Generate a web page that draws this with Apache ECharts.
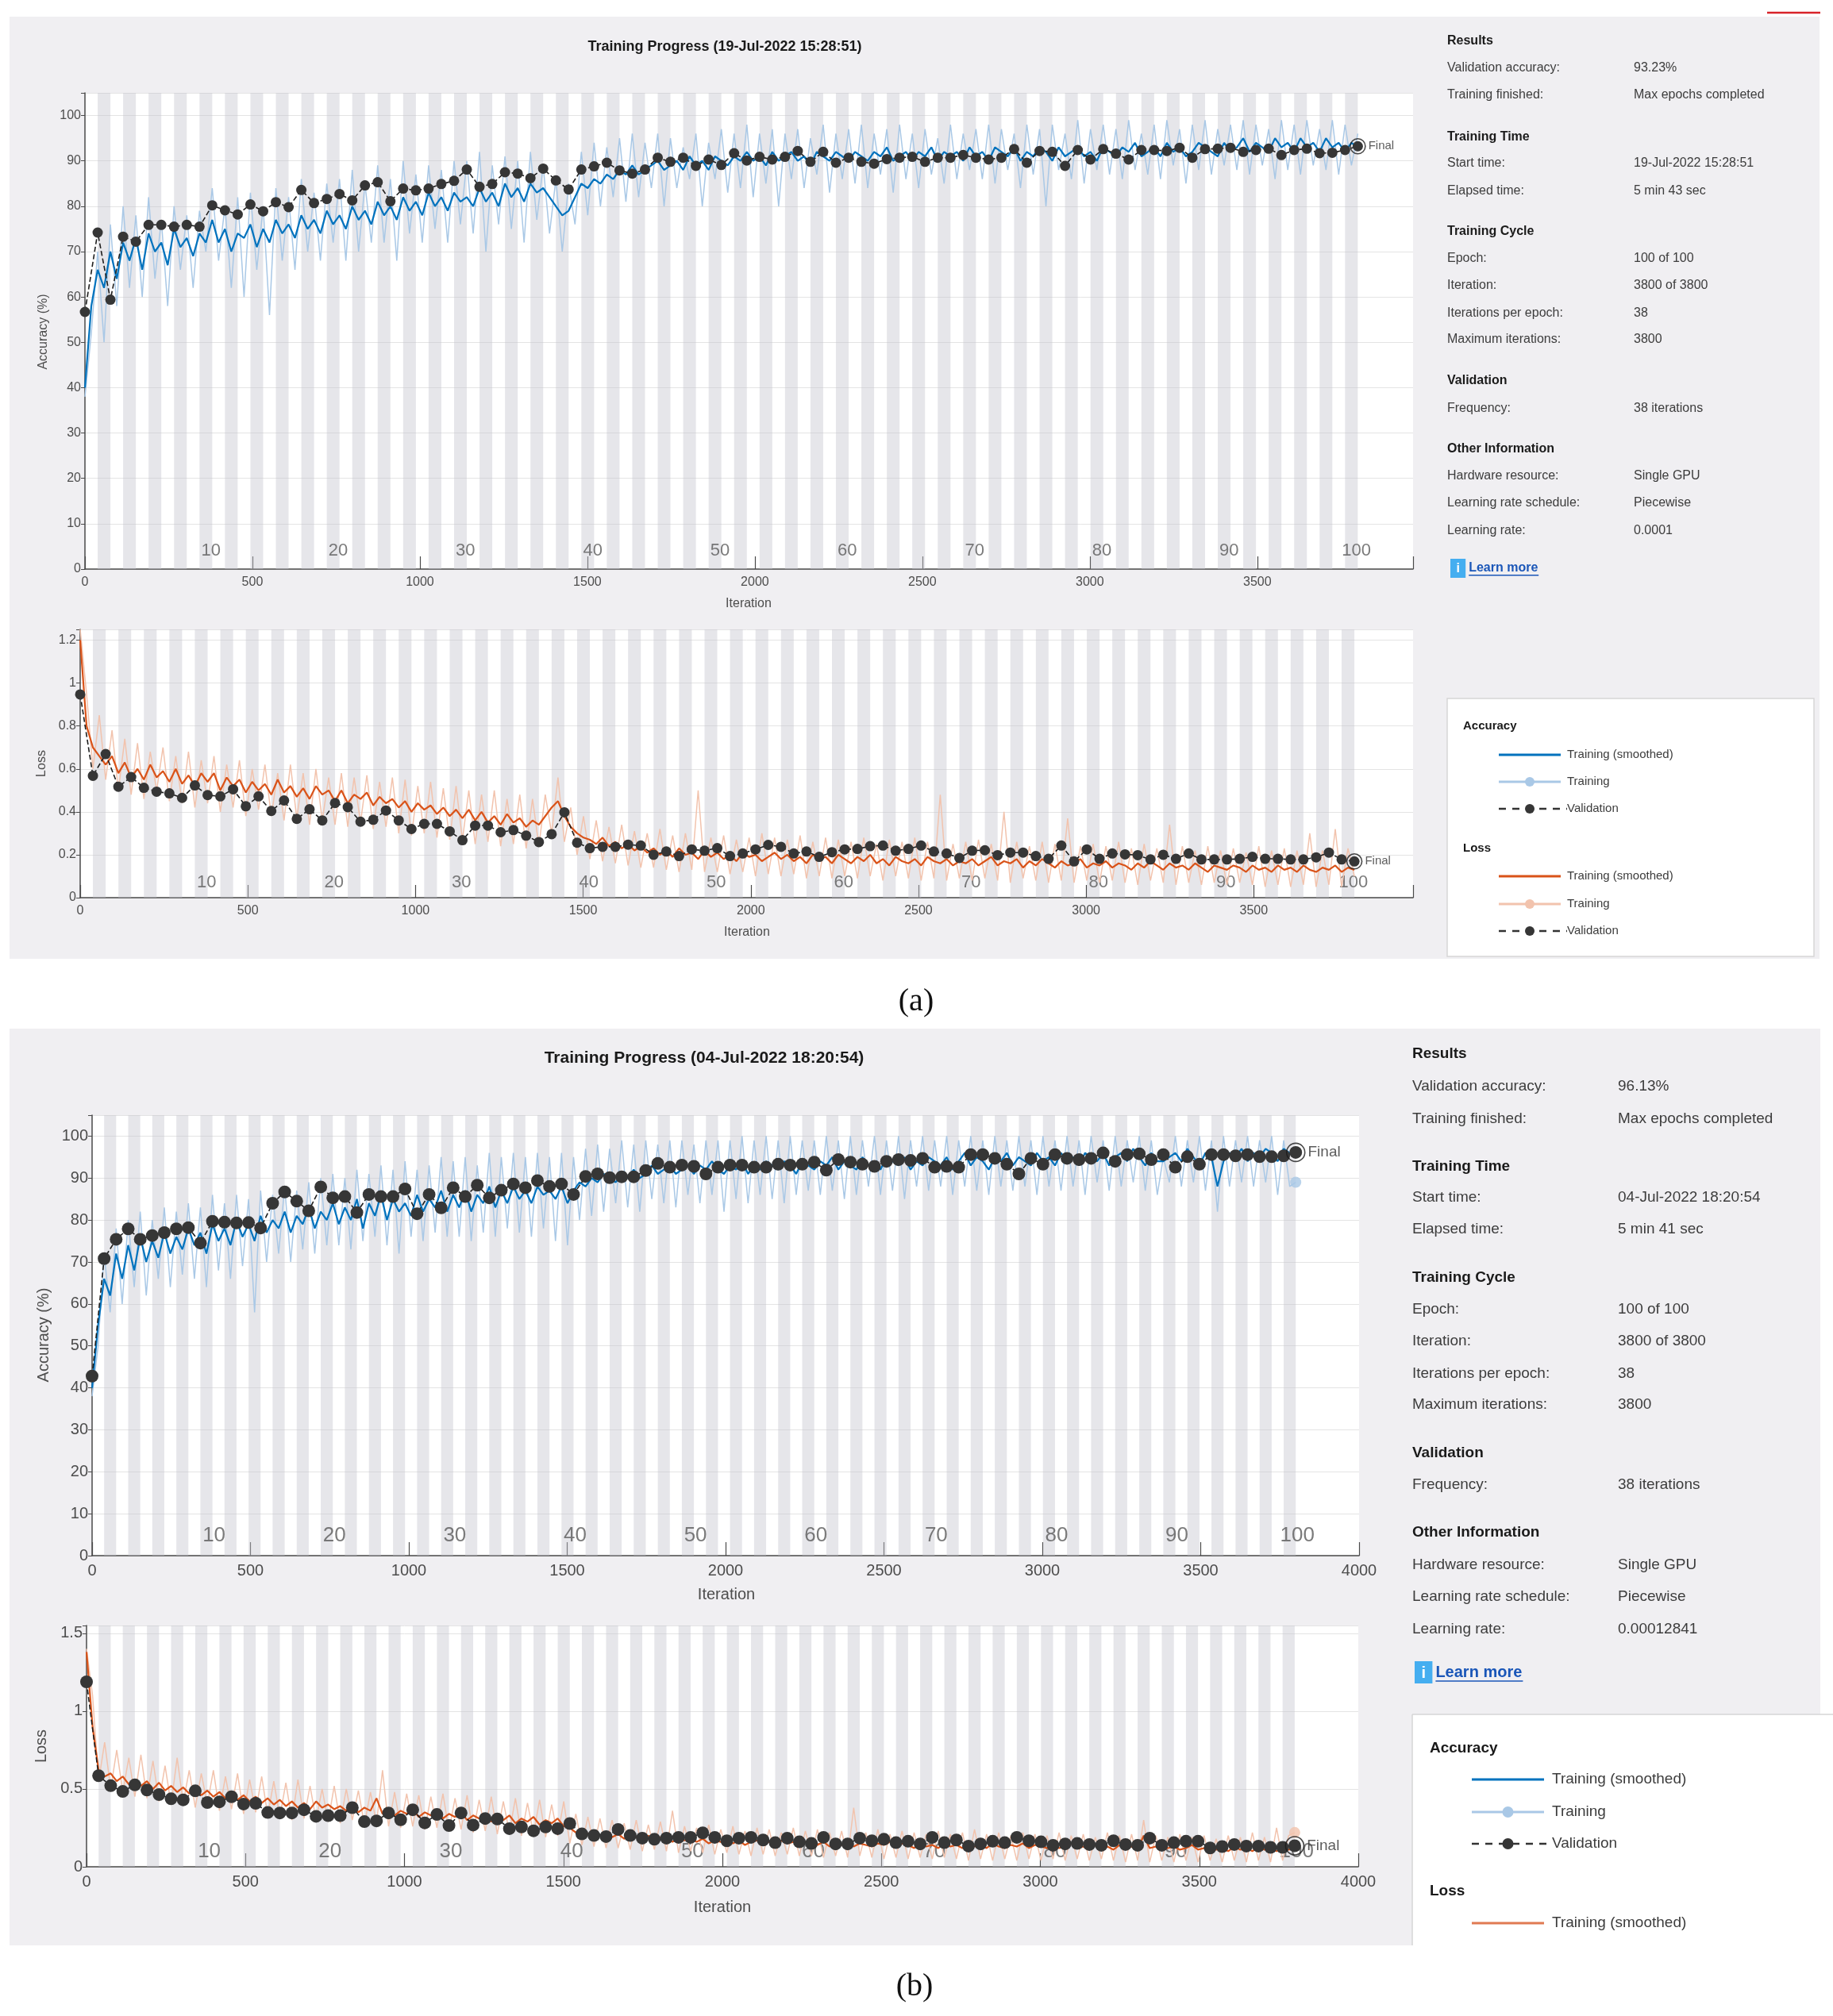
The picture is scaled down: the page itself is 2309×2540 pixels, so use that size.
<!DOCTYPE html>
<html>
<head>
<meta charset="utf-8">
<script src="https://cdn.jsdelivr.net/npm/echarts@6/dist/echarts.min.js"></script>
<style>
html,body{margin:0;padding:0;background:#fff;}
#c{width:2309px;height:2540px;}
</style>
</head>
<body>
<div id="c"></div>
<script>
// ---------------- DATA ----------------
const ITER_PER_EPOCH = 38;
const NUM_EPOCHS = 100;
const TRAIN_STEP = 19; // training curves sampled every 19 iterations
const epochLabels = ['10','20','30','40','50','60','70','80','90','100'];
const epochLabelAt = [10,20,30,40,50,60,70,80,90,100];
const xTickStep = 500;

// Panel (a) accuracy
const accA_val = [56.7,74.2,59.4,73.3,72.2,75.9,75.9,75.5,75.9,75.5,
 80.2,79.1,78.2,80.4,78.9,80.9,79.8,83.6,80.7,81.6,
 82.7,81.3,84.6,85.3,81.1,83.9,83.5,83.9,84.9,85.6,
 88.1,84.3,84.9,87.5,87.2,86.2,88.3,85.7,83.7,88.1,
 88.8,89.6,87.9,87.2,88.1,90.7,89.8,90.7,88.9,90.3,
 89.1,91.7,90.1,90.9,90.3,90.9,92.2,89.8,92.0,89.6,
 90.7,89.8,89.4,90.4,90.7,90.9,
 89.8,90.7,90.7,91.3,90.7,90.3,90.7,92.6,89.6,92.2,
 92.0,88.9,92.4,90.3,92.6,91.6,90.3,92.4,92.4,92.2,
 92.9,90.7,92.6,92.7,92.9,92.0,92.4,92.7,91.3,92.4,
 92.7,91.7,91.8,92.4,93.23];
const accA_smooth = [40,58,66,62,70,64,72,68,73,66,74,70,72,67,75,71,73,69,74,72,
 77,72,75,70,74,73,76,71,75,72,77,74,76,73,78,75,77,74,79,76,
 78,75,80,77,79,76,81,78,80,77,82,79,81,78,83,80,82,79,83,81,
 82,80,84,81,83,80,85,82,84,81,85,83,84,82,80,78,79,82,85,84,
 86,85,87,86,88,87,89,87,88,89,90,88,89,90,88,91,89,90,88,91,
 90,89,91,90,92,90,91,89,92,90,91,92,90,91,89,92,91,90,92,91,
 90,92,91,90,92,91,93,90,91,92,90,92,91,93,90,92,91,92,90,93,
 91,92,90,93,92,91,93,90,92,91,93,92,90,93,91,92,93,91,92,90,
 93,92,91,93,92,94,91,92,93,91,94,92,93,91,92,94,93,92,91,94,
 92,93,95,92,94,93,92,95,93,94,92,95,93,94,92,95,93,94,92,94,93];
const accA_raw = [38,52,70,50,76,58,80,62,78,60,82,64,77,58,80,66,78,62,79,70,
 84,68,80,62,82,60,83,66,80,56,84,68,82,66,86,70,83,68,85,72,
 86,68,88,70,85,72,89,72,86,68,90,74,87,72,89,75,88,72,90,76,
 90,74,92,70,89,76,91,75,90,72,92,77,89,74,86,70,85,76,92,78,
 94,80,93,82,95,81,96,82,94,84,96,80,95,84,93,86,96,80,94,86,
 97,83,96,84,98,82,96,85,97,80,96,86,97,84,95,87,98,83,96,86,
 97,85,98,84,96,87,97,83,98,86,96,84,97,87,95,85,98,86,96,88,
 97,86,98,85,97,88,96,84,98,87,97,80,98,88,96,86,99,85,97,88,
 98,87,97,86,99,88,96,87,98,86,99,89,97,85,98,88,99,87,97,89,
 98,88,99,87,98,89,97,86,99,88,98,87,99,89,97,88,99,87,98,89,96];

// Panel (a) loss
const lossA_val = [0.947,0.568,0.669,0.517,0.562,0.512,0.494,0.486,0.465,0.523,
 0.478,0.472,0.505,0.426,0.472,0.404,0.453,0.367,0.412,0.360,
 0.441,0.422,0.354,0.363,0.406,0.360,0.320,0.344,0.344,0.309,
 0.268,0.336,0.336,0.305,0.315,0.289,0.259,0.296,0.398,0.256,
 0.231,0.237,0.237,0.247,0.243,0.200,0.215,0.194,0.225,0.219,
 0.231,0.194,0.206,0.225,0.246,0.237,0.206,0.215,0.190,0.212,
 0.225,0.227,0.240,0.243,0.219,0.227,
 0.243,0.215,0.206,0.185,0.219,0.221,0.198,0.210,0.210,0.194,
 0.181,0.243,0.169,0.225,0.181,0.206,0.202,0.198,0.178,0.200,
 0.181,0.206,0.178,0.178,0.178,0.181,0.190,0.181,0.181,0.178,
 0.178,0.188,0.210,0.178,0.169];
const lossA_smooth = [1.20,0.80,0.70,0.66,0.62,0.66,0.58,0.63,0.56,0.60,0.55,0.62,0.56,0.59,0.54,0.60,0.53,0.57,0.52,0.58,
 0.54,0.58,0.50,0.56,0.52,0.55,0.49,0.54,0.50,0.53,0.48,0.55,0.49,0.52,0.47,0.51,0.46,0.52,0.48,0.50,
 0.45,0.50,0.44,0.48,0.46,0.49,0.43,0.47,0.44,0.46,0.42,0.45,0.40,0.44,0.41,0.43,0.39,0.42,0.38,0.41,
 0.37,0.41,0.36,0.40,0.35,0.38,0.34,0.39,0.35,0.37,0.33,0.36,0.34,0.38,0.42,0.45,0.38,0.33,0.30,0.28,
 0.27,0.25,0.28,0.24,0.26,0.23,0.25,0.22,0.24,0.21,0.23,0.20,0.22,0.19,0.23,0.20,0.21,0.18,0.22,0.19,
 0.21,0.18,0.20,0.17,0.21,0.19,0.20,0.17,0.19,0.21,0.18,0.20,0.17,0.19,0.16,0.20,0.18,0.19,0.16,0.20,
 0.18,0.16,0.19,0.17,0.20,0.16,0.18,0.15,0.19,0.17,0.16,0.18,0.15,0.19,0.17,0.16,0.18,0.15,0.17,0.16,
 0.18,0.15,0.17,0.19,0.15,0.17,0.16,0.18,0.14,0.17,0.15,0.18,0.16,0.14,0.17,0.15,0.16,0.18,0.14,0.16,
 0.15,0.17,0.14,0.16,0.15,0.13,0.16,0.14,0.17,0.15,0.13,0.16,0.14,0.15,0.13,0.16,0.14,0.12,0.15,0.14,
 0.13,0.15,0.14,0.12,0.15,0.13,0.14,0.12,0.15,0.13,0.14,0.12,0.15,0.13,0.12,0.14,0.13,0.15,0.12,0.14,0.13];
const lossA_raw = [1.25,0.95,0.60,0.85,0.55,0.78,0.50,0.74,0.48,0.72,0.46,0.68,0.50,0.70,0.45,0.66,0.44,0.68,0.42,0.64,
 0.44,0.66,0.40,0.62,0.42,0.64,0.38,0.60,0.41,0.62,0.38,0.58,0.36,0.62,0.37,0.58,0.34,0.60,0.36,0.56,
 0.34,0.58,0.33,0.56,0.35,0.57,0.32,0.54,0.33,0.56,0.30,0.55,0.29,0.52,0.30,0.54,0.28,0.51,0.27,0.52,
 0.27,0.50,0.25,0.48,0.26,0.50,0.24,0.46,0.25,0.48,0.23,0.46,0.24,0.48,0.30,0.56,0.26,0.42,0.20,0.38,
 0.18,0.36,0.17,0.33,0.16,0.34,0.15,0.31,0.14,0.30,0.14,0.32,0.13,0.29,0.12,0.30,0.13,0.50,0.12,0.28,
 0.12,0.29,0.11,0.27,0.12,0.28,0.10,0.30,0.11,0.28,0.10,0.27,0.11,0.29,0.09,0.26,0.10,0.28,0.09,0.27,
 0.10,0.26,0.09,0.28,0.10,0.25,0.08,0.27,0.10,0.26,0.09,0.28,0.08,0.26,0.09,0.48,0.08,0.25,0.09,0.26,
 0.08,0.27,0.09,0.25,0.08,0.40,0.07,0.26,0.09,0.24,0.08,0.26,0.07,0.25,0.08,0.37,0.07,0.24,0.08,0.25,
 0.07,0.24,0.08,0.26,0.07,0.23,0.06,0.25,0.08,0.23,0.07,0.34,0.06,0.24,0.07,0.22,0.06,0.24,0.07,0.22,
 0.06,0.23,0.07,0.21,0.06,0.24,0.05,0.22,0.06,0.23,0.05,0.22,0.06,0.30,0.05,0.22,0.06,0.32,0.05,0.23,0.10];

// Panel (b) accuracy
const accB_val = [42.8,70.8,75.4,77.9,75.4,76.3,77.0,77.9,78.2,74.5,
 79.7,79.5,79.3,79.4,78.1,84.0,86.7,84.5,82.2,87.9,
 85.3,85.6,81.8,86.1,85.6,85.6,87.4,81.5,86.1,82.9,
 87.7,85.6,88.3,85.3,87.1,88.6,87.7,89.4,88.0,88.6,
 86.1,90.4,91.0,90.1,90.3,90.3,91.8,93.5,92.6,93.1,
 92.8,91.0,92.6,93.1,93.1,92.6,92.6,93.3,93.1,93.3,
 93.8,91.9,94.4,93.8,93.3,92.8,94.0,94.4,94.2,
 94.7,92.6,92.8,92.6,95.6,95.6,94.7,93.3,91.0,94.7,
 93.3,95.6,94.7,94.4,94.7,96.0,94.0,95.6,95.8,94.4,
 95.6,92.6,95.1,93.3,95.6,95.6,95.3,95.6,95.1,95.1,
 95.3,96.13];
const accB_smooth = [40,55,66,62,72,66,74,68,76,70,75,71,77,72,76,73,78,74,77,72,
 79,75,78,74,80,76,79,75,81,77,80,78,82,77,81,79,83,78,82,80,
 84,79,83,80,85,78,84,81,86,80,85,82,84,81,86,82,85,83,87,82,
 86,83,87,82,86,84,88,83,87,84,88,85,87,84,88,86,87,85,88,84,
 87,89,88,90,89,91,90,89,91,90,92,90,91,93,91,92,93,91,92,93,
 91,93,92,94,92,91,93,92,94,91,93,92,94,93,92,94,93,91,94,93,
 92,94,93,95,92,94,93,92,95,93,94,92,95,94,93,95,92,94,93,95,
 94,93,95,92,94,96,93,95,94,92,95,94,96,93,95,94,93,96,94,95,
 93,96,94,95,93,96,95,94,96,93,95,96,94,97,95,93,96,94,94,95,
 96,94,97,95,93,96,95,88,94,96,95,97,94,96,95,97,96,94,97,96,95];
const accB_raw = [38,50,72,58,78,60,80,64,82,62,80,66,83,64,82,67,84,66,83,64,
 86,68,84,66,86,69,85,58,87,70,86,72,88,70,87,73,89,72,90,74,
 91,74,90,73,92,75,91,76,93,74,92,72,94,76,92,75,93,77,95,76,
 94,76,95,75,93,77,96,76,95,78,96,77,95,76,96,78,95,75,96,74,
 95,80,97,81,98,82,97,84,99,83,98,82,99,85,98,84,99,83,99,86,
 98,84,99,86,99,82,99,85,100,84,99,86,100,85,99,84,100,86,99,87,
 99,86,100,87,99,85,100,86,99,88,100,86,99,87,100,85,99,88,100,87,
 99,88,100,86,99,88,100,87,99,86,100,88,99,87,100,88,99,86,100,88,
 99,87,100,88,99,86,100,89,99,87,100,88,99,89,100,87,99,86,95,89,
 100,88,99,89,100,87,99,82,100,88,99,89,100,88,99,89,100,86,99,88,89];

// Panel (b) loss
const lossB_val = [1.188,0.585,0.521,0.484,0.526,0.493,0.464,0.437,0.430,0.488,
 0.413,0.417,0.450,0.403,0.408,0.349,0.346,0.346,0.366,0.324,
 0.329,0.329,0.380,0.290,0.295,0.346,0.302,0.366,0.282,0.336,
 0.265,0.346,0.268,0.310,0.307,0.245,0.256,0.231,0.256,0.245,
 0.278,0.211,0.201,0.194,0.240,0.201,0.184,0.177,0.184,0.189,
 0.189,0.218,0.189,0.167,0.184,0.189,0.172,0.155,0.184,0.160,
 0.150,0.189,0.147,0.147,0.184,0.167,0.177,0.155,0.164,
 0.147,0.189,0.155,0.172,0.133,0.147,0.164,0.155,0.189,0.167,
 0.160,0.138,0.147,0.150,0.143,0.138,0.167,0.143,0.138,0.184,
 0.138,0.155,0.164,0.164,0.121,0.130,0.143,0.133,0.133,0.125,
 0.125,0.135];
const lossB_smooth = [1.38,0.90,0.62,0.58,0.60,0.55,0.58,0.53,0.56,0.52,0.55,0.50,0.54,0.49,0.52,0.48,0.51,0.47,0.50,0.46,
 0.49,0.45,0.48,0.44,0.47,0.43,0.46,0.42,0.45,0.41,0.44,0.40,0.43,0.39,0.42,0.38,0.41,0.37,0.42,0.38,
 0.40,0.37,0.39,0.36,0.40,0.35,0.38,0.36,0.44,0.34,0.37,0.33,0.36,0.34,0.37,0.32,0.35,0.33,0.36,0.31,
 0.34,0.32,0.35,0.30,0.33,0.31,0.34,0.29,0.32,0.30,0.33,0.28,0.31,0.29,0.32,0.27,0.30,0.28,0.31,0.26,
 0.25,0.22,0.24,0.21,0.23,0.20,0.22,0.19,0.21,0.18,0.20,0.19,0.18,0.20,0.17,0.19,0.18,0.16,0.19,0.17,
 0.18,0.16,0.18,0.15,0.17,0.16,0.18,0.15,0.17,0.14,0.16,0.17,0.15,0.16,0.14,0.17,0.15,0.16,0.14,0.16,
 0.15,0.14,0.16,0.13,0.15,0.14,0.16,0.13,0.15,0.14,0.13,0.15,0.14,0.16,0.13,0.15,0.14,0.12,0.15,0.13,
 0.14,0.12,0.15,0.13,0.14,0.12,0.16,0.13,0.14,0.12,0.15,0.13,0.12,0.14,0.13,0.15,0.12,0.14,0.13,0.12,
 0.14,0.12,0.13,0.15,0.12,0.13,0.11,0.14,0.12,0.13,0.11,0.14,0.12,0.13,0.11,0.20,0.12,0.13,0.11,0.12,
 0.13,0.11,0.12,0.14,0.11,0.12,0.13,0.11,0.12,0.10,0.13,0.11,0.12,0.10,0.13,0.11,0.12,0.10,0.12,0.11,0.12];
const lossB_raw = [1.40,1.10,0.55,0.80,0.50,0.75,0.48,0.70,0.45,0.72,0.44,0.68,0.42,0.65,0.40,0.70,0.41,0.62,0.38,0.60,
 0.40,0.62,0.36,0.58,0.37,0.60,0.34,0.56,0.35,0.58,0.33,0.55,0.32,0.54,0.30,0.56,0.31,0.52,0.30,0.50,
 0.29,0.52,0.28,0.50,0.30,0.49,0.27,0.48,0.28,0.62,0.26,0.48,0.25,0.47,0.26,0.46,0.24,0.45,0.25,0.47,
 0.23,0.44,0.24,0.46,0.22,0.43,0.23,0.45,0.21,0.42,0.22,0.44,0.20,0.41,0.21,0.43,0.19,0.40,0.20,0.42,
 0.15,0.34,0.14,0.32,0.13,0.31,0.12,0.30,0.12,0.28,0.11,0.30,0.10,0.27,0.11,0.29,0.10,0.36,0.09,0.26,
 0.10,0.25,0.09,0.27,0.08,0.24,0.09,0.26,0.08,0.23,0.07,0.25,0.08,0.24,0.07,0.22,0.08,0.25,0.07,0.23,
 0.07,0.24,0.06,0.22,0.07,0.23,0.06,0.38,0.07,0.22,0.06,0.24,0.05,0.21,0.06,0.23,0.05,0.22,0.06,0.21,
 0.05,0.23,0.06,0.21,0.05,0.22,0.04,0.24,0.05,0.21,0.04,0.22,0.05,0.20,0.04,0.22,0.05,0.21,0.04,0.20,
 0.05,0.22,0.04,0.20,0.05,0.21,0.04,0.19,0.05,0.22,0.04,0.20,0.03,0.21,0.04,0.30,0.03,0.20,0.04,0.19,
 0.03,0.21,0.04,0.19,0.03,0.20,0.04,0.18,0.03,0.20,0.04,0.19,0.03,0.22,0.04,0.19,0.03,0.25,0.04,0.20,0.22];

// Info panel text
const infoLabels = ['Results','Validation accuracy:','Training finished:','Training Time','Start time:','Elapsed time:',
 'Training Cycle','Epoch:','Iteration:','Iterations per epoch:','Maximum iterations:','Validation','Frequency:',
 'Other Information','Hardware resource:','Learning rate schedule:','Learning rate:'];
const infoValuesA = ['','93.23%','Max epochs completed','','19-Jul-2022 15:28:51','5 min 43 sec','',
 '100 of 100','3800 of 3800','38','3800','','38 iterations','','Single GPU','Piecewise','0.0001'];
const infoValuesB = ['','96.13%','Max epochs completed','','04-Jul-2022 18:20:54','5 min 41 sec','',
 '100 of 100','3800 of 3800','38','3800','','38 iterations','','Single GPU','Piecewise','0.00012841'];
const titleA = 'Training Progress (19-Jul-2022 15:28:51)';
const titleB = 'Training Progress (04-Jul-2022 18:20:54)';

// ---------------- LAYOUT / STYLE ----------------
const FONT = '"Liberation Sans", Arial, Helvetica, sans-serif';
const BLUE = '#0072BD', BLUE_L = '#a9c8e6', ORANGE = '#D95319', ORANGE_L = '#f2c3ad';
const PANEL_BG = '#f0eff2', STRIPE = 'rgba(196,196,204,0.42)', AXIS_C = '#4a4a4a', VAL_C = '#363636';

const panels = [
 {grid:{left:107, top:117, width:1673, height:600}, xMax:3965, yMax:105, yInt:10, font:16, tickLen:16,
  val:accA_val, smooth:accA_smooth, raw:accA_raw, c:BLUE, cl:BLUE_L, epOff:-4, epY:4.0, epFont:22, mk:13, ring:19, endDot:false},
 {grid:{left:101, top:793, width:1679, height:338}, xMax:3975, yMax:1.25, yInt:0.2, font:16, tickLen:16,
  val:lossA_val, smooth:lossA_smooth, raw:lossA_raw, c:ORANGE, cl:ORANGE_L, epOff:-3, epY:0.07, epFont:22, mk:13, ring:19, endDot:false},
 {grid:{left:116, top:1405, width:1596, height:555}, xMax:4000, yMax:105, yInt:10, font:20, tickLen:17,
  val:accB_val, smooth:accB_smooth, raw:accB_raw, c:BLUE, cl:BLUE_L, epOff:5, epY:4.8, epFont:26, mk:16, ring:23, endDot:true},
 {grid:{left:109, top:2048, width:1602, height:304}, xMax:4000, yMax:1.55, yInt:0.5, font:20, tickLen:17,
  val:lossB_val, smooth:lossB_smooth, raw:lossB_raw, c:ORANGE, cl:ORANGE_L, epOff:6, epY:0.10, epFont:26, mk:16, ring:23, endDot:true}
];

function onStep(v, step){ const r = v/step; return Math.abs(r - Math.round(r)) < 1e-6; }

const stripeData = [];
for (let e = 2; e <= NUM_EPOCHS; e += 2) {
  stripeData.push([{xAxis:(e-1)*ITER_PER_EPOCH}, {xAxis:e*ITER_PER_EPOCH}]);
}

const grids = [], xAxes = [], yAxes = [], series = [];
panels.forEach((p, i) => {
  grids.push(Object.assign({show:true, backgroundColor:'#ffffff', borderWidth:0, containLabel:false}, p.grid));
  xAxes.push({type:'value', gridIndex:i, min:0, max:p.xMax, interval:xTickStep,
    axisLine:{show:true, onZero:false, lineStyle:{color:AXIS_C, width:1.5}},
    axisTick:{show:true, inside:true, length:p.tickLen, lineStyle:{color:AXIS_C, width:1.2}},
    axisLabel:{show:true, fontSize:p.font, color:'#4d4d4d', fontFamily:FONT, margin:9,
      formatter:v => onStep(v, xTickStep) ? String(v) : ''},
    splitLine:{show:false}});
  yAxes.push({type:'value', gridIndex:i, min:0, max:p.yMax, interval:p.yInt,
    axisLine:{show:true, lineStyle:{color:AXIS_C, width:1.5}},
    axisTick:{show:true, inside:false, length:5, lineStyle:{color:AXIS_C}},
    axisLabel:{show:true, fontSize:p.font, color:'#4d4d4d', fontFamily:FONT, margin:5,
      formatter:v => onStep(v, p.yInt) ? String(+v.toFixed(2)) : ''},
    splitLine:{show:true, lineStyle:{color:'#e4e4e4', width:1}}});

  // epoch stripes
  series.push({type:'line', xAxisIndex:i, yAxisIndex:i, data:[], silent:true,
    markArea:{silent:true, z:1, itemStyle:{color:STRIPE}, data:stripeData}});
  // epoch labels
  series.push({type:'scatter', xAxisIndex:i, yAxisIndex:i, z:2, silent:true, symbolSize:1,
    itemStyle:{color:'rgba(0,0,0,0)'},
    data: epochLabelAt.map((e, k) => ({value:[e*ITER_PER_EPOCH + p.epOff, p.epY], name:epochLabels[k]})),
    label:{show:true, position:'inside', formatter:d => d.name, fontSize:p.epFont, color:'#5a5a5a', fontFamily:FONT}});
  // raw training
  series.push({type:'line', xAxisIndex:i, yAxisIndex:i, z:3, silent:true, symbol:'none',
    data:p.raw.map((v, k) => [k*TRAIN_STEP, v]), lineStyle:{color:p.cl, width:1.5}});
  // smoothed training
  series.push({type:'line', xAxisIndex:i, yAxisIndex:i, z:4, silent:true, symbol:'none',
    data:p.smooth.map((v, k) => [k*TRAIN_STEP, v]), lineStyle:{color:p.c, width:2.2}});
  // validation
  series.push({type:'line', xAxisIndex:i, yAxisIndex:i, z:5, silent:true, symbol:'circle', symbolSize:p.mk,
    showAllSymbol:true, data:p.val.map((v, k) => [k*ITER_PER_EPOCH, v]),
    itemStyle:{color:VAL_C, borderWidth:0}, lineStyle:{color:'#1e1e1e', width:1.6, type:'dashed'}});
  // final raw point (b)
  if (p.endDot) {
    const last = p.raw.length - 1;
    series.push({type:'scatter', xAxisIndex:i, yAxisIndex:i, z:4, silent:true, symbolSize:p.mk-2,
      data:[[last*TRAIN_STEP, p.raw[last]]], itemStyle:{color:p.cl}});
  }
  // final ring
  const lv = p.val.length - 1;
  series.push({type:'scatter', xAxisIndex:i, yAxisIndex:i, z:6, silent:true, symbolSize:p.ring,
    data:[[lv*ITER_PER_EPOCH, p.val[lv]]],
    itemStyle:{color:'rgba(0,0,0,0)', borderColor:'#1a1a1a', borderWidth:1.6},
    label:{show:true, position:'right', distance:3, formatter:'Final', fontSize:p.font-1, color:'#333', fontFamily:FONT}});
});

// ---------------- GRAPHIC (panels, info, legends) ----------------
function T(x, y, text, size, o) {
  o = o || {};
  return {type:'text', x:x, y:y, z:o.z || 50, rotation:o.rot || 0, silent:true,
    style:{text:text, fill:o.color || '#3a3a3a', font:(o.bold ? 'bold ' : '') + size + 'px ' + (o.family || FONT),
      textAlign:o.align || 'left', textVerticalAlign:'middle', align:o.align || 'left', verticalAlign:'middle'}};
}
function L(x1, y1, x2, y2, color, w, dash, z) {
  return {type:'line', z:z || 40, silent:true, shape:{x1, y1, x2, y2},
    style:{stroke:color, lineWidth:w, lineDash:dash || null}};
}
function C(cx, cy, r, color, z) {
  return {type:'circle', z:z || 41, silent:true, shape:{cx, cy, r}, style:{fill:color}};
}
function R(x, y, w, h, fill, stroke, z) {
  return {type:'rect', z:z === undefined ? -10 : z, silent:true, shape:{x, y, width:w, height:h},
    style:{fill:fill, stroke:stroke || null, lineWidth:stroke ? 1.5 : 0}};
}

const g = [];
// panel backgrounds
g.push(R(12, 21, 2280, 1187, PANEL_BG, null, -10));
g.push(R(12, 1296, 2281, 1155, PANEL_BG, null, -10));
// red mark at top right
g.push(L(2226, 16, 2293, 16, '#d8232a', 2.5));
// titles
g.push(T(913, 59, titleA, 18, {bold:true, align:'center', color:'#1a1a1a'}));
g.push(T(887, 1333, titleB, 21, {bold:true, align:'center', color:'#1a1a1a'}));
// axis names
g.push(T(55, 418, 'Accuracy (%)', 16, {rot:Math.PI/2, align:'center', color:'#4d4d4d'}));
g.push(T(943, 761, 'Iteration', 16, {align:'center', color:'#4d4d4d'}));
g.push(T(53, 962, 'Loss', 16, {rot:Math.PI/2, align:'center', color:'#4d4d4d'}));
g.push(T(941, 1175, 'Iteration', 16, {align:'center', color:'#4d4d4d'}));
g.push(T(55, 1682, 'Accuracy (%)', 20, {rot:Math.PI/2, align:'center', color:'#4d4d4d'}));
g.push(T(915, 2009, 'Iteration', 20, {align:'center', color:'#4d4d4d'}));
g.push(T(52, 2200, 'Loss', 20, {rot:Math.PI/2, align:'center', color:'#4d4d4d'}));
g.push(T(910, 2403, 'Iteration', 20, {align:'center', color:'#4d4d4d'}));
// captions
const SERIF = '"Liberation Serif", "DejaVu Serif", serif';
g.push(T(1154, 1262, '(a)', 40, {align:'center', color:'#111', family:SERIF}));
g.push(T(1152, 2503, '(b)', 40, {align:'center', color:'#111', family:SERIF}));

// info panels
const infoYA = [52,86,120,173,206,241,292,326,360,395,428,480,515,566,600,634,669];
const infoYB = [1328,1369,1410,1470,1509,1549,1610,1650,1690,1731,1770,1831,1871,1931,1972,2012,2053];
function info(values, ys, xl, xv, size) {
  infoLabels.forEach((lab, k) => {
    const head = values[k] === '';
    g.push(T(xl, ys[k], lab, size, {bold:head, color: head ? '#1a1a1a' : '#3c3c3c'}));
    if (!head) g.push(T(xv, ys[k], values[k], size, {color:'#3c3c3c'}));
  });
}
info(infoValuesA, infoYA, 1823, 2058, 16);
info(infoValuesB, infoYB, 1779, 2038, 19);
// learn more
function learnMore(x, y, s, size, tw) {
  g.push(R(x, y - s/2, s*0.8, s, '#45aef0', null, 40));
  g.push(T(x + s*0.4, y + 1, 'i', size, {bold:true, align:'center', color:'#ffffff', z:41}));
  g.push(T(x + s*0.8 + 4, y, 'Learn more', size, {bold:true, color:'#1a56b8'}));
  g.push(L(x + s*0.8 + 4, y + size*0.55, x + s*0.8 + 4 + tw, y + size*0.55, '#1a56b8', 1.5));
}
learnMore(1827, 716, 24, 16, 88);
learnMore(1782, 2107, 28, 20, 110);

// legend (a)
g.push(R(1823, 880, 462, 325, '#ffffff', '#d6d6d6', 30));
function legend(x0, x1, xt, ys, size, items, r) {
  items.forEach((it, k) => {
    const y = ys[k];
    if (it.head) { g.push(T(it.hx, y, it.head, size, {bold:true, color:'#1a1a1a'})); return; }
    const xm = (x0 + x1) / 2;
    if (it.kind === 'line') g.push(L(x0, y, x1, y, it.color, 3));
    if (it.kind === 'mark') { g.push(L(x0, y, x1, y, it.color, 3)); g.push(C(xm, y, r, it.color)); }
    if (it.kind === 'val') { g.push(L(x0, y, x1 + 8, y, '#333', 2.5, [9, 8])); g.push(C(xm, y, r, VAL_C)); }
    g.push(T(xt, y, it.text, size, {color:'#3c3c3c'}));
  });
}
legend(1888, 1966, 1974, [915, 951, 985, 1019, 1069, 1104, 1139, 1173], 15, [
  {head:'Accuracy', hx:1843},
  {kind:'line', color:BLUE, text:'Training (smoothed)'},
  {kind:'mark', color:BLUE_L, text:'Training'},
  {kind:'val', text:'Validation'},
  {head:'Loss', hx:1843},
  {kind:'line', color:ORANGE, text:'Training (smoothed)'},
  {kind:'mark', color:ORANGE_L, text:'Training'},
  {kind:'val', text:'Validation'}
], 6);
// legend (b)
g.push(R(1779, 2160, 530, 291, '#ffffff', null, 30));
g.push(L(1779, 2160, 2309, 2160, '#d6d6d6', 1.5, null, 31));
g.push(L(1779, 2160, 1779, 2451, '#d6d6d6', 1.5, null, 31));
legend(1854, 1945, 1955, [2203, 2242, 2283, 2323, 2383, 2423], 19, [
  {head:'Accuracy', hx:1801},
  {kind:'line', color:BLUE, text:'Training (smoothed)'},
  {kind:'mark', color:BLUE_L, text:'Training'},
  {kind:'val', text:'Validation'},
  {head:'Loss', hx:1801},
  {kind:'line', color:'#e07a52', text:'Training (smoothed)'}
], 7);

const chart = echarts.init(document.getElementById('c'), null, {renderer:'canvas', width:2309, height:2540});
chart.setOption({
  animation:false,
  backgroundColor:'#ffffff',
  tooltip:{show:false},
  grid:grids, xAxis:xAxes, yAxis:yAxes, series:series,
  graphic:{elements:g}
});
</script>
</body>
</html>
